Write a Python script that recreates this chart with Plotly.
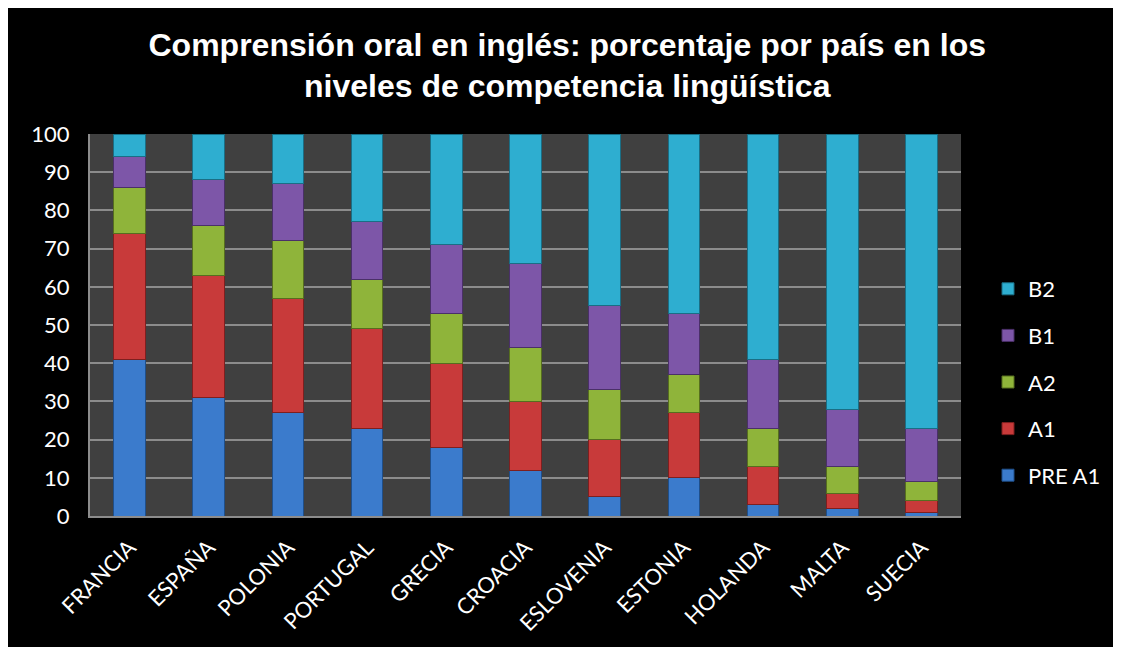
import plotly.graph_objects as go

countries = ["FRANCIA", "ESPAÑA", "POLONIA", "PORTUGAL", "GRECIA", "CROACIA",
             "ESLOVENIA", "ESTONIA", "HOLANDA", "MALTA", "SUECIA"]
pre_a1 = [41, 31, 27, 23, 18, 12, 5, 10, 3, 2, 1]
a1 = [33, 32, 30, 26, 22, 18, 15, 17, 10, 4, 3]
a2 = [12, 13, 15, 13, 13, 14, 13, 10, 10, 7, 5]
b1 = [8, 12, 15, 15, 18, 22, 22, 16, 18, 15, 14]
b2 = [6, 12, 13, 23, 29, 34, 45, 47, 59, 72, 77]

series = [
    ("PRE A1", pre_a1, "#3b7bcc", "#1f4f8a"),
    ("A1", a1, "#c83a3a", "#7e1f1f"),
    ("A2", a2, "#8fb43a", "#566e1f"),
    ("B1", b1, "#7d56a8", "#4a3068"),
    ("B2", b2, "#2eaed0", "#1a6e85"),
]

fig = go.Figure()
n = len(series)
for i, (name, vals, col, edge) in enumerate(series):
    fig.add_trace(go.Bar(
        name=name, x=countries, y=vals, legendgroup=name, legendrank=n - i,
        marker=dict(color=col, line=dict(color=edge, width=1)),
    ))

L, R, T, B = 90, 160, 134, 139
W, H = 1121, 655
pw, ph = W - L - R, H - T - B

fig.update_layout(
    width=W, height=H, barmode="stack", bargap=0.6,
    margin=dict(l=L, r=R, t=T, b=B, autoexpand=False),
    paper_bgcolor="black", plot_bgcolor="#404040",
    title=dict(text="Comprensión oral en inglés: porcentaje por país en los<br>niveles de competencia lingüística",
               x=0.506, xanchor="center", y=0.915, yanchor="middle", yref="container",
               font=dict(family="Liberation Sans", size=32, color="white", weight="bold")),
    font=dict(family="Lato", color="white"),
    legend=dict(x=(988 - L) / pw, xanchor="left", y=(516 - 382) / ph, yanchor="middle",
                traceorder="grouped", tracegroupgap=15,
                font=dict(size=22, color="white", family="Lato"), bgcolor="rgba(0,0,0,0)"),
    showlegend=True,
    xaxis=dict(tickangle=-45, tickfont=dict(size=22, color="white"), showline=True,
               linecolor="#8c8c8c", linewidth=2, ticks="", ticklabelstandoff=8),
    yaxis=dict(range=[0, 100], dtick=10, tickfont=dict(size=22, color="white"),
               gridcolor="#8c8c8c", gridwidth=1.5, showline=True, linecolor="#8c8c8c",
               linewidth=2, ticks="", zeroline=False, ticklabelstandoff=14),
    shapes=[dict(type="rect", xref="paper", yref="paper", layer="above",
                 x0=-L / pw, x1=1 + R / pw, y0=-B / ph, y1=1 + T / ph,
                 line=dict(color="white", width=16), fillcolor="rgba(0,0,0,0)")],
)

fig.write_html("out.html")
